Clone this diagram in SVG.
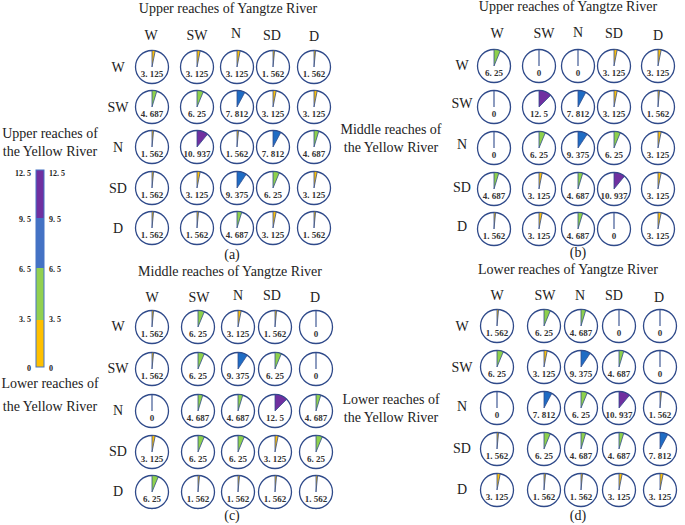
<svg xmlns="http://www.w3.org/2000/svg" width="685" height="525" viewBox="0 0 685 525">
<style>
text{font-family:"Liberation Serif","Times New Roman",serif;fill:#222}
.t{font-size:14px;text-anchor:middle}
.h{font-size:14px;text-anchor:middle}
.r{font-size:14px;text-anchor:middle}
.c circle{fill:#fff;stroke:#2f4a8a;stroke-width:1.3}
.c text{font-size:9px;text-anchor:middle;font-weight:bold;fill:#333}
.c use{transform:scale(1.1)}
.o{fill:#fbbf0a;stroke:#2f4a8a;stroke-width:.7}
.g{fill:#8ed14c;stroke:#2f4a8a;stroke-width:.7}
.b{fill:#1f6cc4;stroke:#2f4a8a;stroke-width:.7}
.v{fill:#7030a0;stroke:#2f4a8a;stroke-width:.7}
.z{stroke:#2f4a8a;stroke-width:1}
.lg{font-size:8px;font-weight:bold}
</style>
<defs>
<line id="p0" x1="0" y1="0" x2="0" y2="-15"/>
<path id="p1" d="M0 0V-15A15 15 0 0 1 1.47 -14.93Z"/>
<path id="p2" d="M0 0V-15A15 15 0 0 1 2.93 -14.71Z"/>
<path id="p3" d="M0 0V-15A15 15 0 0 1 4.35 -14.35Z"/>
<path id="p4" d="M0 0V-15A15 15 0 0 1 5.74 -13.86Z"/>
<path id="p5" d="M0 0V-15A15 15 0 0 1 7.07 -13.23Z"/>
<path id="p6" d="M0 0V-15A15 15 0 0 1 8.33 -12.47Z"/>
<path id="p7" d="M0 0V-15A15 15 0 0 1 9.52 -11.6Z"/>
<path id="p8" d="M0 0V-15A15 15 0 0 1 10.61 -10.61Z"/>
</defs>
<g id="connectors"/>
<g id="legend">
<text x="50" y="138" class="t">Upper reaches of</text>
<text x="50" y="156" class="t">the Yellow River</text>
<rect x="36" y="170" width="8" height="48" fill="#7030a0"/>
<rect x="36" y="218" width="8" height="50" fill="#4472c4"/>
<rect x="36" y="268" width="8" height="52" fill="#92d050"/>
<rect x="36" y="320" width="8" height="47" fill="#ffc000"/>
<rect x="36" y="170" width="8" height="197" fill="none" stroke="#4472c4" stroke-width="1"/>
<text x="31" y="176" text-anchor="end" class="lg">12. 5</text><text x="49" y="176" class="lg">12. 5</text>
<text x="31" y="222" text-anchor="end" class="lg">9. 5</text><text x="49" y="222" class="lg">9. 5</text>
<text x="31" y="272" text-anchor="end" class="lg">6. 5</text><text x="49" y="272" class="lg">6. 5</text>
<text x="31" y="322" text-anchor="end" class="lg">3. 5</text><text x="49" y="322" class="lg">3. 5</text>
<text x="31" y="371" text-anchor="end" class="lg">0</text><text x="49" y="371" class="lg">0</text>
<text x="50" y="388" class="t">Lower reaches of</text>
<text x="50" y="411" class="t">the Yellow River</text>
</g>
<g id="panel-a">
<text x="228" y="13" class="t">Upper reaches of Yangtze River</text>
<text x="151" y="40" class="h">W</text><text x="197" y="40" class="h">SW</text><text x="236" y="38" class="h">N</text><text x="272" y="40" class="h">SD</text><text x="314" y="41" class="h">D</text>
<text x="118" y="72" class="r">W</text><text x="118" y="112" class="r">SW</text><text x="118" y="152" class="r">N</text><text x="118" y="193" class="r">SD</text><text x="118" y="233" class="r">D</text>
<text x="232" y="259" class="t">(a)</text>
<g class="c">
<g id="a11" transform="translate(152,67)"><circle r="16.5"/><use href="#p2" class="o"/><text y="10">3. 125</text></g>
<g id="a12" transform="translate(197,67)"><circle r="16.5"/><use href="#p2" class="o"/><text y="10">3. 125</text></g>
<g id="a13" transform="translate(237,67)"><circle r="16.5"/><use href="#p2" class="o"/><text y="10">3. 125</text></g>
<g id="a14" transform="translate(273,67)"><circle r="16.5"/><use href="#p1" class="o"/><text y="10">1. 562</text></g>
<g id="a15" transform="translate(314,67)"><circle r="16.5"/><use href="#p1" class="o"/><text y="10">1. 562</text></g>
<g id="a21" transform="translate(152,107)"><circle r="16.5"/><use href="#p3" class="g"/><text y="10">4. 687</text></g>
<g id="a22" transform="translate(197,107)"><circle r="16.5"/><use href="#p4" class="g"/><text y="10">6. 25</text></g>
<g id="a23" transform="translate(237,107)"><circle r="16.5"/><use href="#p5" class="b"/><text y="10">7. 812</text></g>
<g id="a24" transform="translate(273,107)"><circle r="16.5"/><use href="#p2" class="o"/><text y="10">3. 125</text></g>
<g id="a25" transform="translate(314,107)"><circle r="16.5"/><use href="#p2" class="o"/><text y="10">3. 125</text></g>
<g id="a31" transform="translate(152,147)"><circle r="16.5"/><use href="#p1" class="o"/><text y="10">1. 562</text></g>
<g id="a32" transform="translate(197,147)"><circle r="16.5"/><use href="#p7" class="v"/><text y="10">10. 937</text></g>
<g id="a33" transform="translate(237,147)"><circle r="16.5"/><use href="#p1" class="o"/><text y="10">1. 562</text></g>
<g id="a34" transform="translate(273,147)"><circle r="16.5"/><use href="#p5" class="b"/><text y="10">7. 812</text></g>
<g id="a35" transform="translate(314,147)"><circle r="16.5"/><use href="#p3" class="g"/><text y="10">4. 687</text></g>
<g id="a41" transform="translate(152,188)"><circle r="16.5"/><use href="#p1" class="o"/><text y="10">1. 562</text></g>
<g id="a42" transform="translate(197,188)"><circle r="16.5"/><use href="#p2" class="o"/><text y="10">3. 125</text></g>
<g id="a43" transform="translate(237,188)"><circle r="16.5"/><use href="#p6" class="b"/><text y="10">9. 375</text></g>
<g id="a44" transform="translate(273,188)"><circle r="16.5"/><use href="#p4" class="g"/><text y="10">6. 25</text></g>
<g id="a45" transform="translate(314,188)"><circle r="16.5"/><use href="#p2" class="o"/><text y="10">3. 125</text></g>
<g id="a51" transform="translate(152,228)"><circle r="16.5"/><use href="#p1" class="o"/><text y="10">1. 562</text></g>
<g id="a52" transform="translate(197,228)"><circle r="16.5"/><use href="#p1" class="o"/><text y="10">1. 562</text></g>
<g id="a53" transform="translate(237,228)"><circle r="16.5"/><use href="#p3" class="g"/><text y="10">4. 687</text></g>
<g id="a54" transform="translate(273,228)"><circle r="16.5"/><use href="#p2" class="o"/><text y="10">3. 125</text></g>
<g id="a55" transform="translate(314,228)"><circle r="16.5"/><use href="#p1" class="o"/><text y="10">1. 562</text></g>
</g>
</g>
<g id="panel-b">
<text x="568" y="11" class="t">Upper reaches of Yangtze River</text>
<text x="497" y="38" class="h">W</text><text x="544" y="38" class="h">SW</text><text x="578" y="37" class="h">N</text><text x="614" y="38" class="h">SD</text><text x="658" y="40" class="h">D</text>
<text x="462" y="70" class="r">W</text><text x="462" y="108" class="r">SW</text><text x="462" y="149" class="r">N</text><text x="462" y="192" class="r">SD</text><text x="462" y="231" class="r">D</text>
<text x="391" y="134" class="t">Middle reaches of</text><text x="391" y="152" class="t">the Yellow River</text>
<text x="578" y="257" class="t">(b)</text>
<g class="c">
<g id="b11" transform="translate(494,66)"><circle r="16.5"/><use href="#p4" class="g"/><text y="10">6. 25</text></g>
<g id="b12" transform="translate(539,66)"><circle r="16.5"/><use href="#p0" class="z"/><text y="10">0</text></g>
<g id="b13" transform="translate(578,66)"><circle r="16.5"/><use href="#p0" class="z"/><text y="10">0</text></g>
<g id="b14" transform="translate(614,66)"><circle r="16.5"/><use href="#p2" class="o"/><text y="10">3. 125</text></g>
<g id="b15" transform="translate(658,66)"><circle r="16.5"/><use href="#p2" class="o"/><text y="10">3. 125</text></g>
<g id="b21" transform="translate(494,107)"><circle r="16.5"/><use href="#p0" class="z"/><text y="10">0</text></g>
<g id="b22" transform="translate(539,107)"><circle r="16.5"/><use href="#p8" class="v"/><text y="10">12. 5</text></g>
<g id="b23" transform="translate(578,107)"><circle r="16.5"/><use href="#p5" class="b"/><text y="10">7. 812</text></g>
<g id="b24" transform="translate(614,107)"><circle r="16.5"/><use href="#p2" class="o"/><text y="10">3. 125</text></g>
<g id="b25" transform="translate(658,107)"><circle r="16.5"/><use href="#p1" class="o"/><text y="10">1. 562</text></g>
<g id="b31" transform="translate(494,148)"><circle r="16.5"/><use href="#p0" class="z"/><text y="10">0</text></g>
<g id="b32" transform="translate(539,148)"><circle r="16.5"/><use href="#p4" class="g"/><text y="10">6. 25</text></g>
<g id="b33" transform="translate(578,148)"><circle r="16.5"/><use href="#p6" class="b"/><text y="10">9. 375</text></g>
<g id="b34" transform="translate(614,148)"><circle r="16.5"/><use href="#p4" class="g"/><text y="10">6. 25</text></g>
<g id="b35" transform="translate(658,148)"><circle r="16.5"/><use href="#p2" class="o"/><text y="10">3. 125</text></g>
<g id="b41" transform="translate(494,189)"><circle r="16.5"/><use href="#p3" class="g"/><text y="10">4. 687</text></g>
<g id="b42" transform="translate(539,189)"><circle r="16.5"/><use href="#p2" class="o"/><text y="10">3. 125</text></g>
<g id="b43" transform="translate(578,189)"><circle r="16.5"/><use href="#p3" class="g"/><text y="10">4. 687</text></g>
<g id="b44" transform="translate(614,189)"><circle r="16.5"/><use href="#p7" class="v"/><text y="10">10. 937</text></g>
<g id="b45" transform="translate(658,189)"><circle r="16.5"/><use href="#p2" class="o"/><text y="10">3. 125</text></g>
<g id="b51" transform="translate(494,229)"><circle r="16.5"/><use href="#p1" class="o"/><text y="10">1. 562</text></g>
<g id="b52" transform="translate(539,229)"><circle r="16.5"/><use href="#p2" class="o"/><text y="10">3. 125</text></g>
<g id="b53" transform="translate(578,229)"><circle r="16.5"/><use href="#p3" class="g"/><text y="10">4. 687</text></g>
<g id="b54" transform="translate(614,229)"><circle r="16.5"/><use href="#p0" class="z"/><text y="10">0</text></g>
<g id="b55" transform="translate(658,229)"><circle r="16.5"/><use href="#p2" class="o"/><text y="10">3. 125</text></g>
</g>
</g>
<g id="panel-c">
<text x="230" y="276" class="t">Middle reaches of Yangtze River</text>
<text x="152" y="302" class="h">W</text><text x="199" y="302" class="h">SW</text><text x="238" y="300" class="h">N</text><text x="272" y="300" class="h">SD</text><text x="315" y="302" class="h">D</text>
<text x="118" y="331" class="r">W</text><text x="118" y="373" class="r">SW</text><text x="118" y="415" class="r">N</text><text x="118" y="456" class="r">SD</text><text x="118" y="496" class="r">D</text>
<text x="232" y="520" class="t">(c)</text>
<g class="c">
<g id="c11" transform="translate(152,327)"><circle r="16.5"/><use href="#p1" class="o"/><text y="10">1. 562</text></g>
<g id="c12" transform="translate(198,327)"><circle r="16.5"/><use href="#p4" class="g"/><text y="10">6. 25</text></g>
<g id="c13" transform="translate(238,327)"><circle r="16.5"/><use href="#p2" class="o"/><text y="10">3. 125</text></g>
<g id="c14" transform="translate(275,327)"><circle r="16.5"/><use href="#p1" class="o"/><text y="10">1. 562</text></g>
<g id="c15" transform="translate(316,327)"><circle r="16.5"/><use href="#p0" class="z"/><text y="10">0</text></g>
<g id="c21" transform="translate(152,369)"><circle r="16.5"/><use href="#p1" class="o"/><text y="10">1. 562</text></g>
<g id="c22" transform="translate(198,369)"><circle r="16.5"/><use href="#p4" class="g"/><text y="10">6. 25</text></g>
<g id="c23" transform="translate(238,369)"><circle r="16.5"/><use href="#p6" class="b"/><text y="10">9. 375</text></g>
<g id="c24" transform="translate(275,369)"><circle r="16.5"/><use href="#p4" class="g"/><text y="10">6. 25</text></g>
<g id="c25" transform="translate(316,369)"><circle r="16.5"/><use href="#p0" class="z"/><text y="10">0</text></g>
<g id="c31" transform="translate(152,411)"><circle r="16.5"/><use href="#p0" class="z"/><text y="10">0</text></g>
<g id="c32" transform="translate(198,411)"><circle r="16.5"/><use href="#p3" class="g"/><text y="10">4. 687</text></g>
<g id="c33" transform="translate(238,411)"><circle r="16.5"/><use href="#p3" class="g"/><text y="10">4. 687</text></g>
<g id="c34" transform="translate(275,411)"><circle r="16.5"/><use href="#p8" class="v"/><text y="10">12. 5</text></g>
<g id="c35" transform="translate(316,411)"><circle r="16.5"/><use href="#p3" class="g"/><text y="10">4. 687</text></g>
<g id="c41" transform="translate(152,452)"><circle r="16.5"/><use href="#p2" class="o"/><text y="10">3. 125</text></g>
<g id="c42" transform="translate(198,452)"><circle r="16.5"/><use href="#p4" class="g"/><text y="10">6. 25</text></g>
<g id="c43" transform="translate(238,452)"><circle r="16.5"/><use href="#p4" class="g"/><text y="10">6. 25</text></g>
<g id="c44" transform="translate(275,452)"><circle r="16.5"/><use href="#p2" class="o"/><text y="10">3. 125</text></g>
<g id="c45" transform="translate(316,452)"><circle r="16.5"/><use href="#p4" class="g"/><text y="10">6. 25</text></g>
<g id="c51" transform="translate(152,492)"><circle r="16.5"/><use href="#p4" class="g"/><text y="10">6. 25</text></g>
<g id="c52" transform="translate(198,492)"><circle r="16.5"/><use href="#p1" class="o"/><text y="10">1. 562</text></g>
<g id="c53" transform="translate(238,492)"><circle r="16.5"/><use href="#p1" class="o"/><text y="10">1. 562</text></g>
<g id="c54" transform="translate(275,492)"><circle r="16.5"/><use href="#p1" class="o"/><text y="10">1. 562</text></g>
<g id="c55" transform="translate(316,492)"><circle r="16.5"/><use href="#p1" class="o"/><text y="10">1. 562</text></g>
</g>
</g>
<g id="panel-d">
<text x="568" y="274" class="t">Lower reaches of Yangtze River</text>
<text x="497" y="300" class="h">W</text><text x="545" y="300" class="h">SW</text><text x="580" y="300" class="h">N</text><text x="614" y="300" class="h">SD</text><text x="659" y="302" class="h">D</text>
<text x="462" y="331" class="r">W</text><text x="462" y="372" class="r">SW</text><text x="462" y="411" class="r">N</text><text x="462" y="453" class="r">SD</text><text x="462" y="494" class="r">D</text>
<text x="391" y="404" class="t">Lower reaches of</text><text x="391" y="422" class="t">the Yellow River</text>
<text x="578" y="520" class="t">(d)</text>
<g class="c">
<g id="d11" transform="translate(497,326)"><circle r="16.5"/><use href="#p1" class="o"/><text y="10">1. 562</text></g>
<g id="d12" transform="translate(544,326)"><circle r="16.5"/><use href="#p4" class="g"/><text y="10">6. 25</text></g>
<g id="d13" transform="translate(581,326)"><circle r="16.5"/><use href="#p3" class="g"/><text y="10">4. 687</text></g>
<g id="d14" transform="translate(619,326)"><circle r="16.5"/><use href="#p0" class="z"/><text y="10">0</text></g>
<g id="d15" transform="translate(660,326)"><circle r="16.5"/><use href="#p0" class="z"/><text y="10">0</text></g>
<g id="d21" transform="translate(497,367)"><circle r="16.5"/><use href="#p4" class="g"/><text y="10">6. 25</text></g>
<g id="d22" transform="translate(544,367)"><circle r="16.5"/><use href="#p2" class="o"/><text y="10">3. 125</text></g>
<g id="d23" transform="translate(581,367)"><circle r="16.5"/><use href="#p6" class="b"/><text y="10">9. 375</text></g>
<g id="d24" transform="translate(619,367)"><circle r="16.5"/><use href="#p3" class="g"/><text y="10">4. 687</text></g>
<g id="d25" transform="translate(660,367)"><circle r="16.5"/><use href="#p0" class="z"/><text y="10">0</text></g>
<g id="d31" transform="translate(497,408)"><circle r="16.5"/><use href="#p0" class="z"/><text y="10">0</text></g>
<g id="d32" transform="translate(544,408)"><circle r="16.5"/><use href="#p5" class="b"/><text y="10">7. 812</text></g>
<g id="d33" transform="translate(581,408)"><circle r="16.5"/><use href="#p4" class="g"/><text y="10">6. 25</text></g>
<g id="d34" transform="translate(619,408)"><circle r="16.5"/><use href="#p7" class="v"/><text y="10">10. 937</text></g>
<g id="d35" transform="translate(660,408)"><circle r="16.5"/><use href="#p1" class="o"/><text y="10">1. 562</text></g>
<g id="d41" transform="translate(497,449)"><circle r="16.5"/><use href="#p1" class="o"/><text y="10">1. 562</text></g>
<g id="d42" transform="translate(544,449)"><circle r="16.5"/><use href="#p4" class="g"/><text y="10">6. 25</text></g>
<g id="d43" transform="translate(581,449)"><circle r="16.5"/><use href="#p3" class="g"/><text y="10">4. 687</text></g>
<g id="d44" transform="translate(619,449)"><circle r="16.5"/><use href="#p3" class="g"/><text y="10">4. 687</text></g>
<g id="d45" transform="translate(660,449)"><circle r="16.5"/><use href="#p5" class="b"/><text y="10">7. 812</text></g>
<g id="d51" transform="translate(497,490)"><circle r="16.5"/><use href="#p2" class="o"/><text y="10">3. 125</text></g>
<g id="d52" transform="translate(544,490)"><circle r="16.5"/><use href="#p1" class="o"/><text y="10">1. 562</text></g>
<g id="d53" transform="translate(581,490)"><circle r="16.5"/><use href="#p1" class="o"/><text y="10">1. 562</text></g>
<g id="d54" transform="translate(619,490)"><circle r="16.5"/><use href="#p2" class="o"/><text y="10">3. 125</text></g>
<g id="d55" transform="translate(660,490)"><circle r="16.5"/><use href="#p2" class="o"/><text y="10">3. 125</text></g>
</g>
</g>
</svg>
